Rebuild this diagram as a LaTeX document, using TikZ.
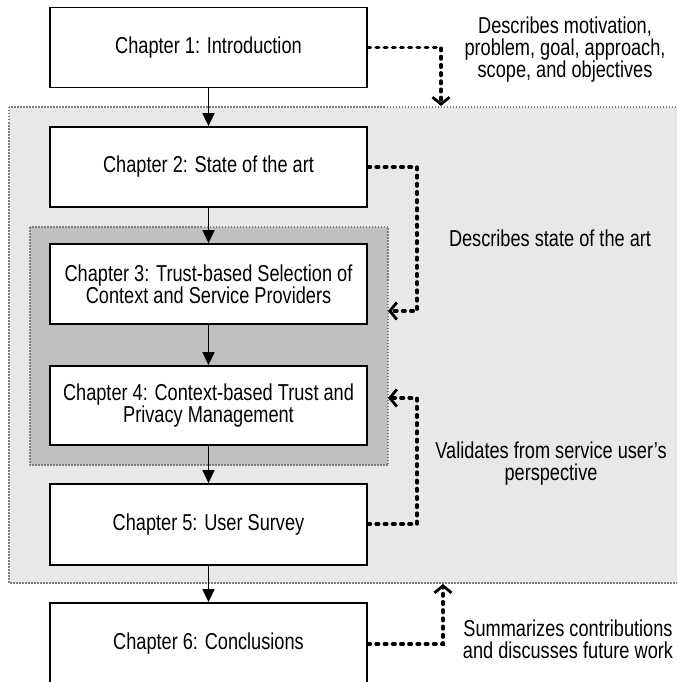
\documentclass[tikz,border=0pt]{standalone}
\usepackage{fontspec}
\setmainfont[FakeStretch=0.79]{Liberation Sans}
\usetikzlibrary{arrows.meta}

\begin{document}
\begin{tikzpicture}[x=1pt,y=-1pt,
  txt/.style={font=\fontsize{23}{22}\selectfont},
  chapter/.style={txt, draw=black, line width=1.8pt, fill=white,
    minimum width=317pt, align=center, inner sep=0pt},
  region/.style={draw=black!50, line width=1.2pt, dash pattern=on 1.5pt off 1.5pt},
  flow/.style={line width=1.7pt, -{Triangle[length=13pt,width=12pt]}},
  link/.style={line width=3.4pt, line cap=round, dash pattern=on 2.6pt off 5.6pt,
    -{Straight Barb[length=7pt,width=17pt,line width=2.8pt]}},
  note/.style={txt, align=center}]
\useasboundingbox (0,0) rectangle (677,682);
\clip (0,0) rectangle (677,682);

% shaded groups of chapters
\filldraw[region, fill=black!9] (9,107) rectangle (690,583);
\filldraw[region, fill=black!25] (30,227) rectangle (388,465);

% chapter boxes
\node[chapter, minimum height=80pt] (c1) at (208.5,47.5) {Chapter 1: Introduction};
\node[chapter, minimum height=80pt] (c2) at (208.5,167) {Chapter 2: State of the art};
\node[chapter, minimum height=80pt] (c3) at (208.5,284) {Chapter 3: Trust-based Selection of\\Context and Service Providers};
\node[chapter, minimum height=79pt] (c4) at (208.5,405.5) {Chapter 4: Context-based Trust and\\Privacy Management};
\node[chapter, minimum height=81pt] (c5) at (208.5,524.5) {Chapter 5: User Survey};
\node[chapter, minimum height=82pt] (c6) at (208.5,644) {Chapter 6: Conclusions};

% reading order
\draw[flow] (c1) -- (c2);
\draw[flow] (c2) -- (c3);
\draw[flow] (c3) -- (c4);
\draw[flow] (c4) -- (c5);
\draw[flow] (c5) -- (c6);

% end points of the annotation links
\coordinate (t1) at (441,106);
\coordinate (t2) at (388,311);
\coordinate (t3) at (388,398);
\coordinate (t4) at (443,584);
\coordinate (k3) at (417,524);

\draw[link] (c1.east) -| (t1);
\draw[link] (c2.east) -| (417,167) |- (t2);
\draw[link] (c5.east |- k3) -- (k3) |- (t3);
\draw[link] (c6.east) -| (t4);

% annotations
\node[note] (n1) at (565,50) {Describes motivation,\\problem, goal, approach,\\scope, and objectives};
\node[note] (n2) at (550,238) {Describes state of the art};
\node[note] (n3) at (551,464) {Validates from service user’s\\perspective};
\node[note] (n4) at (568,639) {Summarizes contributions\\and discusses future work};
\end{tikzpicture}
\end{document}
